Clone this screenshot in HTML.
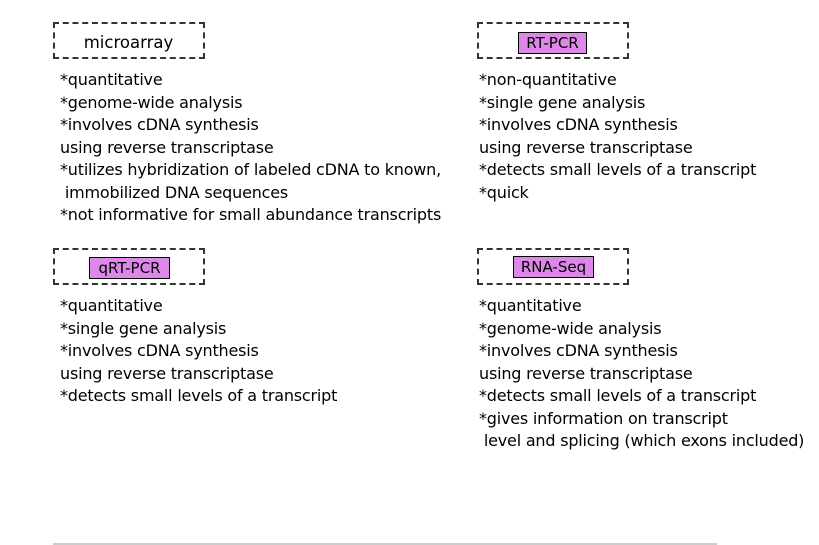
<!DOCTYPE html>
<html><head><style>
body{margin:0;width:819px;height:545px;background:#fff;position:relative;overflow:hidden;font-family:"DejaVu Sans","Liberation Sans",sans-serif;color:#000}
.box{position:absolute;width:148px;height:33px;border:2px dashed #333}
.lbl{position:absolute;font-size:15px;line-height:20px;text-align:center}
.pink{background:#dd88e8;border:1px solid #000}
.txt{position:absolute;font-size:16px;line-height:22.5px;white-space:pre;letter-spacing:-0.2px}
</style></head><body>
<div class="box" style="left:53px;top:22px"></div>
<div class="lbl" style="left:53px;top:33px;width:151px;font-size:16.5px">microarray</div>
<div class="box" style="left:477px;top:22px"></div>
<div class="lbl pink" style="left:518px;top:32px;width:67px">RT-PCR</div>
<div class="box" style="left:53px;top:248px"></div>
<div class="lbl pink" style="left:89px;top:257px;width:79px">qRT-PCR</div>
<div class="box" style="left:477px;top:248px"></div>
<div class="lbl pink" style="left:513px;top:256px;width:79px">RNA-Seq</div>
<div class="txt" style="left:60px;top:69px">*quantitative
*genome-wide analysis
*involves cDNA synthesis
using reverse transcriptase
*utilizes hybridization of labeled cDNA to known,
 immobilized DNA sequences
*not informative for small abundance transcripts</div>
<div class="txt" style="left:479px;top:69px">*non-quantitative
*single gene analysis
*involves cDNA synthesis
using reverse transcriptase
*detects small levels of a transcript
*quick</div>
<div class="txt" style="left:60px;top:295px">*quantitative
*single gene analysis
*involves cDNA synthesis
using reverse transcriptase
*detects small levels of a transcript</div>
<div class="txt" style="left:479px;top:295px">*quantitative
*genome-wide analysis
*involves cDNA synthesis
using reverse transcriptase
*detects small levels of a transcript
*gives information on transcript
 level and splicing (which exons included)</div>
<div style="position:absolute;left:53px;top:543px;width:664px;height:2px;background:#ccc"></div>
</body></html>
